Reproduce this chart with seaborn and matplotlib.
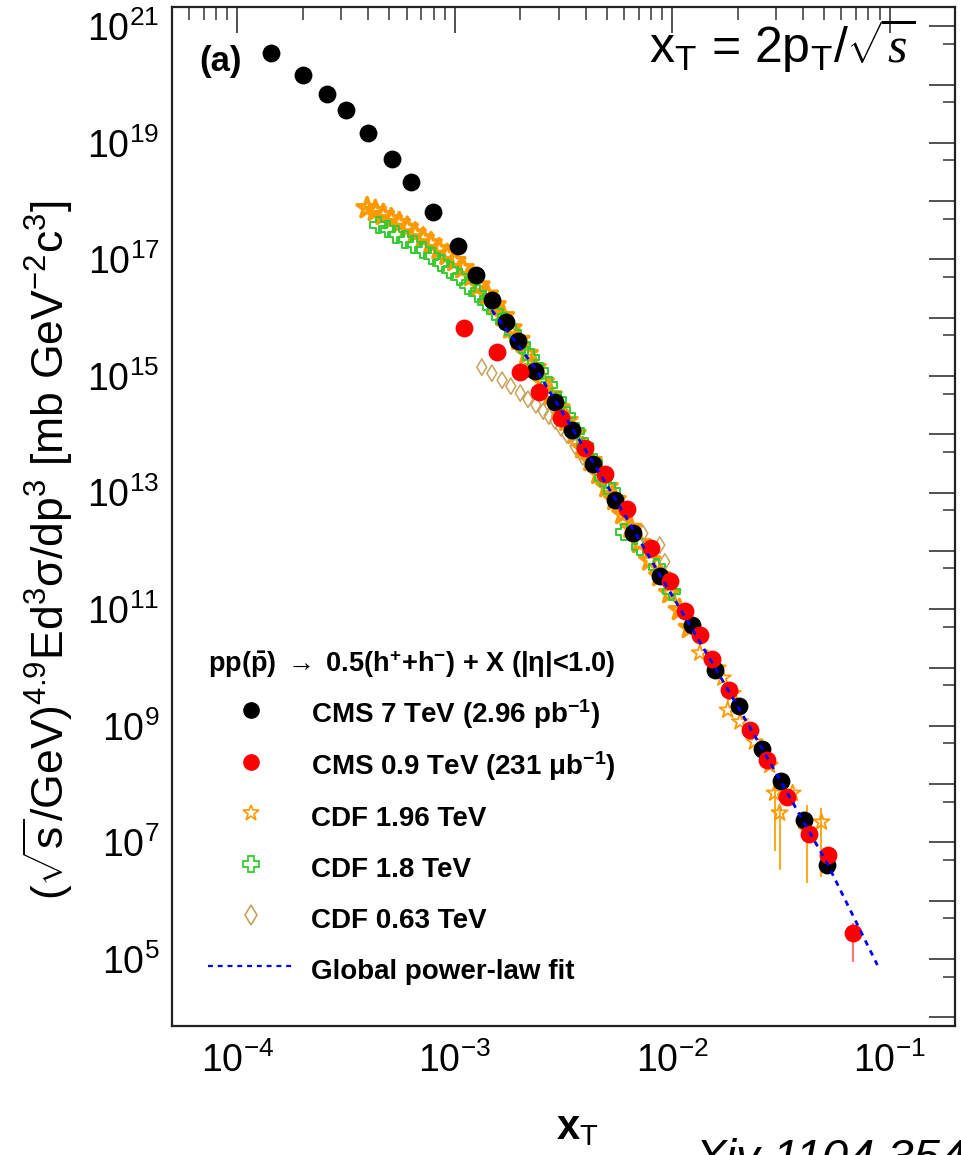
import matplotlib
matplotlib.use("Agg")
import matplotlib.pyplot as plt
import seaborn as sns
import numpy as np
from matplotlib.lines import Line2D
from matplotlib.ticker import FixedLocator, FuncFormatter, NullFormatter

# ---------------- data ----------------
cms7_x = [1.43e-4, 2.01e-4, 2.57e-4, 3.17e-4, 4.0e-4, 5.15e-4, 6.29e-4, 7.94e-4, 1.03e-3,
          1.25e-3, 1.48e-3, 1.72e-3, 1.95e-3, 2.34e-3, 2.89e-3, 3.46e-3, 4.32e-3, 5.44e-3,
          6.59e-3, 8.77e-3, 1.23e-2, 1.57e-2, 2.02e-2, 2.58e-2, 3.16e-2, 4.03e-2, 5.13e-2]
cms7_y = [3.5e20, 1.45e20, 6.9e19, 3.6e19, 1.47e19, 5.3e18, 2.1e18, 6.5e17, 1.7e17,
          5.4e16, 2.0e16, 8.5e15, 4.0e15, 1.22e15, 3.6e14, 1.18e14, 3.1e13, 7.5e12,
          2.0e12, 3.7e11, 5.4e10, 9.1e9, 2.2e9, 4.0e8, 1.13e8, 2.4e7, 4.1e6]

cms09_x = [1.10e-3, 1.56e-3, 2.00e-3, 2.44e-3, 3.08e-3, 3.97e-3, 4.90e-3, 6.18e-3, 7.98e-3,
           9.75e-3, 1.15e-2, 1.34e-2, 1.52e-2, 1.82e-2, 2.27e-2, 2.72e-2, 3.36e-2, 4.24e-2,
           5.19e-2, 6.82e-2]
cms09_y = [6.6e15, 2.6e15, 1.17e15, 5.3e14, 1.9e14, 5.8e13, 2.1e13, 5.2e12, 1.12e12,
           3.0e11, 9.3e10, 3.6e10, 1.4e10, 4.1e9, 8.5e8, 2.6e8, 6.0e7, 1.39e7,
           6.1e6, 2.8e5]
cms09_err_lo = [0, 0, 0, 0, 0, 0, 0, 0, 0, 0, 0, 0, 0, 0, 0, 0, 0, 0, 0, 1.9e5]
cms09_err_hi = [0, 0, 0, 0, 0, 0, 0, 0, 0, 0, 0, 0, 0, 0, 0, 0, 0, 0, 0, 1.4e5]

cdf196_x = [3.95e-4, 4.31e-4, 4.69e-4, 5.10e-4, 5.55e-4, 6.04e-4, 6.57e-4, 7.15e-4, 7.78e-4,
            8.47e-4, 9.22e-4, 1.00e-3, 1.09e-3, 1.19e-3, 1.29e-3, 1.41e-3, 1.53e-3, 1.67e-3,
            1.81e-3, 1.97e-3, 2.15e-3, 2.34e-3, 2.55e-3, 2.77e-3, 3.01e-3, 3.28e-3, 3.57e-3,
            3.88e-3, 4.23e-3, 4.60e-3, 5.01e-3, 5.45e-3, 5.93e-3, 6.46e-3, 7.10e-3, 7.89e-3,
            8.77e-3, 9.75e-3, 1.08e-2, 1.20e-2]
cdf196_y = [7.6e17, 6.8e17, 5.8e17, 4.9e17, 4.2e17, 3.5e17, 2.8e17, 2.3e17, 1.9e17,
            1.5e17, 1.2e17, 9.4e16, 7.1e16, 5.2e16, 3.6e16, 2.5e16, 1.65e16, 1.07e16,
            6.6e15, 4.2e15, 2.4e15, 1.38e15, 7.9e14, 4.7e14, 2.8e14, 1.7e14, 1.02e14,
            5.8e13, 3.5e13, 2.1e13, 1.25e13, 7.5e12, 4.3e12, 2.5e12, 1.37e12, 6.9e11,
            3.7e11, 1.9e11, 9.7e10, 4.8e10]
cdf196_tail_x = [1.34e-2, 1.62e-2, 1.71e-2, 1.80e-2, 1.90e-2, 2.05e-2, 2.39e-2, 2.81e-2,
                 2.96e-2, 3.12e-2, 3.58e-2, 4.15e-2, 4.86e-2]
cdf196_tail_y = [1.78e10, 9.8e9, 6.6e9, 1.86e9, 3.6e9, 1.17e9, 5.3e8, 2.1e8,
                 7.0e7, 3.2e7, 7.0e7, 1.63e7, 2.24e7]
cdf196_tail_lo = [0, 0, 0, 0, 0, 0, 0, 0, 6.3e7, 2.86e7, 0, 1.43e7, 1.98e7]
cdf196_tail_hi = [0, 0, 0, 0, 0, 0, 0, 0, 1.9e7, 1.0e7, 0, 2.8e7, 1.7e7]

cdf18_x = [4.45e-4, 4.89e-4, 5.37e-4, 5.91e-4, 6.50e-4, 7.15e-4, 7.87e-4, 8.65e-4, 9.51e-4,
           1.05e-3, 1.15e-3, 1.27e-3, 1.39e-3, 1.53e-3, 1.68e-3, 1.85e-3, 2.04e-3, 2.24e-3,
           2.47e-3, 2.71e-3, 2.98e-3, 3.28e-3, 3.61e-3, 3.97e-3, 4.37e-3, 4.80e-3, 5.28e-3,
           6.00e-3, 7.10e-3, 8.49e-3, 9.95e-3]
cdf18_y = [3.9e17, 3.3e17, 2.7e17, 2.2e17, 1.8e17, 1.45e17, 1.15e17, 8.7e16, 6.6e16,
           5.0e16, 3.6e16, 2.6e16, 1.86e16, 1.29e16, 8.7e15, 5.6e15, 3.5e15, 2.1e15,
           1.22e15, 7.0e14, 3.9e14, 2.1e14, 1.14e14, 6.3e13, 3.3e13, 1.78e13, 1.07e13,
           2.1e12, 1.17e12, 5.3e11, 2.0e11]

cdf063_x = [1.33e-3, 1.48e-3, 1.65e-3, 1.81e-3, 2.00e-3, 2.17e-3, 2.36e-3, 2.55e-3, 2.71e-3,
            2.89e-3, 3.08e-3, 3.28e-3, 3.57e-3, 3.88e-3, 7.33e-3, 8.77e-3, 9.25e-3]
cdf063_y = [1.42e15, 1.12e15, 8.5e14, 6.7e14, 5.1e14, 4.0e14, 3.2e14, 2.5e14, 2.06e14,
            1.70e14, 1.29e14, 9.8e13, 6.3e13, 4.1e13, 2.0e12, 1.26e12, 6.5e11]

fit_x = [1.48e-3, 2.34e-3, 3.46e-3, 5.44e-3, 8.77e-3, 1.57e-2, 2.58e-2, 5.13e-2, 8.79e-2]
fit_y = [1.35e16, 1.38e15, 1.29e14, 8.1e12, 3.9e11, 1.02e10, 4.2e8, 4.6e6, 7.9e4]

legend_labels = ["CMS 7 TeV (2.96 pb$^{-1}$)", "CMS 0.9 TeV (231 μb$^{-1}$)",
                 "CDF 1.96 TeV", "CDF 1.8 TeV", "CDF 0.63 TeV", "Global power-law fit"]
legend_title = r"pp($\bar{p}$) $\rightarrow$ 0.5(h$^{+}$+h$^{-}$) + X (|η|<1.0)"
x_ticks = [1e-4, 1e-3, 1e-2, 1e-1]
x_ticklabels = ["10$^{-4}$", "10$^{-3}$", "10$^{-2}$", "10$^{-1}$"]

# ---------------- style ----------------
sns.set_style("white")
FAM = ['Liberation Sans', 'DejaVu Sans']
plt.rcParams['font.family'] = FAM
plt.rcParams['mathtext.fontset'] = 'custom'
plt.rcParams['mathtext.rm'] = 'Liberation Sans'
plt.rcParams['mathtext.bf'] = 'Liberation Sans:bold'
plt.rcParams['mathtext.it'] = 'Liberation Serif:italic'
plt.rcParams['mathtext.default'] = 'regular'
for key in ['text.color', 'axes.labelcolor', 'xtick.color', 'ytick.color']:
    plt.rcParams[key] = 'black'

W, H = 962, 1155
fig = plt.figure(figsize=(W / 100, H / 100), dpi=100)
ax = fig.add_axes([172 / W, 1 - 1026 / H, (955 - 172) / W, (1026 - 7) / H])
ax.set_xscale('log')
ax.set_yscale('log')
ax.set_xlim(5.0e-5, 0.2)
ax.set_ylim(7.1e3, 2.14e21)

ORANGE = '#ff9900'
GREEN = '#33cc33'
TAN = '#c9a25a'

# CDF 1.96 TeV
ax.errorbar(cdf196_tail_x, cdf196_tail_y, yerr=[cdf196_tail_lo, cdf196_tail_hi],
            fmt='none', ecolor='#ffaa22', elinewidth=1.5, zorder=1.5)
sns.scatterplot(x=cdf196_x, y=cdf196_y, ax=ax, marker='*', s=230, facecolor='none',
                edgecolor=ORANGE, linewidth=2.6, legend=False, zorder=2)
sns.scatterplot(x=cdf196_tail_x, y=cdf196_tail_y, ax=ax, marker='*', s=150, facecolor='none',
                edgecolor=ORANGE, linewidth=1.3, legend=False, zorder=2)
# CDF 1.8 TeV
sns.scatterplot(x=cdf18_x, y=cdf18_y, ax=ax, marker='P', s=140, facecolor='none',
                edgecolor=GREEN, linewidth=1.4, legend=False, zorder=2.2)
# CDF 0.63 TeV
sns.scatterplot(x=cdf063_x, y=cdf063_y, ax=ax, marker='d', s=70, facecolor='none',
                edgecolor=TAN, linewidth=1.1, legend=False, zorder=2.3)
# CMS 7 TeV
sns.scatterplot(x=cms7_x, y=cms7_y, ax=ax, marker='o', s=165, color='black',
                linewidth=0, legend=False, zorder=3)
# CMS 0.9 TeV
ax.errorbar(cms09_x, cms09_y, yerr=[cms09_err_lo, cms09_err_hi], fmt='none',
            ecolor='#ff7777', elinewidth=1.5, zorder=3.1)
sns.scatterplot(x=cms09_x, y=cms09_y, ax=ax, marker='o', s=165, color='red',
                linewidth=0, legend=False, zorder=3.2)
# fit
sns.lineplot(x=fit_x, y=fit_y, ax=ax, color='blue', linewidth=2.0,
             linestyle=(0, (2.0, 2.0)), sort=False, zorder=4)

# ---------------- axes / ticks ----------------
ax.xaxis.set_major_locator(FixedLocator(x_ticks))
ax.xaxis.set_major_formatter(FuncFormatter(lambda v, p: x_ticklabels[x_ticks.index(v)] if v in x_ticks else ''))
ax.xaxis.set_minor_locator(FixedLocator([m * 10.0 ** e for e in range(-5, 0) for m in range(2, 10)]))
ax.xaxis.set_minor_formatter(NullFormatter())

ax.yaxis.set_major_locator(FixedLocator([10.0 ** e for e in range(3, 22)]))
ax.yaxis.set_major_formatter(FuncFormatter(
    lambda v, p: ("10$^{%d}$" % int(round(np.log10(v)))) if int(round(np.log10(v))) % 2 == 1 else ''))
ax.yaxis.set_minor_locator(FixedLocator([5 * 10.0 ** e for e in range(3, 21)]))
ax.yaxis.set_minor_formatter(NullFormatter())

ax.tick_params(which='both', direction='in', top=True, right=True, color='#333333',
               labelcolor='black')
ax.tick_params(which='major', length=19, width=1.2, labelsize=27)
ax.tick_params(which='minor', length=9, width=1.1)
ax.tick_params(axis='x', which='major', pad=12)
ax.tick_params(axis='y', which='major', pad=9)
for s in ax.spines.values():
    s.set_linewidth(1.6)
    s.set_color('#222222')
ax.set_xlabel('')
ax.set_ylabel('')

# ---------------- legend ----------------
handles = [
    Line2D([], [], ls='none', marker='o', ms=11, mfc='black', mec='black'),
    Line2D([], [], ls='none', marker='o', ms=11, mfc='red', mec='red'),
    Line2D([], [], ls='none', marker='*', ms=12, mfc='none', mec=ORANGE, mew=1.2),
    Line2D([], [], ls='none', marker='P', ms=12, mfc='none', mec=GREEN, mew=1.3),
    Line2D([], [], ls='none', marker='d', ms=10, mfc='none', mec=TAN, mew=1.2),
    Line2D([], [], color='blue', ls=(0, (2.2, 2.2)), lw=1.6),
]
leg = ax.legend(handles, legend_labels, title=legend_title, loc='upper left',
                bbox_to_anchor=(208 / W, 1 - 648 / H), bbox_transform=fig.transFigure,
                frameon=False, prop={'family': FAM, 'weight': 'bold', 'size': 20},
                title_fontproperties={'family': FAM, 'weight': 'bold', 'size': 19.5},
                handlelength=3.13, handletextpad=0.58, handleheight=1.45,
                labelspacing=0.64, borderpad=0, borderaxespad=0, alignment='left')
for t in leg.get_texts():
    t.set_color('black')
leg.get_title().set_color('black')

# ---------------- texts ----------------
fig.text(199 / W, 1 - 62 / H, '(a)', fontsize=25, fontweight='bold', ha='left', va='center')
fig.text(915 / W, 1 - 45 / H, r'x$_{\rm T}$ = 2p$_{\rm T}$/$\sqrt{\mathit{s}}$',
         fontsize=36, ha='right', va='center')
fig.text(577 / W, 1 - 1128 / H, r'x$_{\rm T}$', fontsize=30, fontweight='bold',
         ha='center', va='center')
fig.text(48 / W, 1 - 550 / H,
         r'($\sqrt{\rm s}$/GeV)$^{4.9}$Ed$^{3}$σ/dp$^{3}$ [mb GeV$^{-2}$c$^{3}$]',
         rotation=90, fontsize=32, ha='center', va='center')
fig.text(695 / W, 1 - 1138 / H, 'Xiv 1104.3547', fontsize=34, style='italic',
         ha='left', va='top')

fig.savefig('out.png', dpi=100)
